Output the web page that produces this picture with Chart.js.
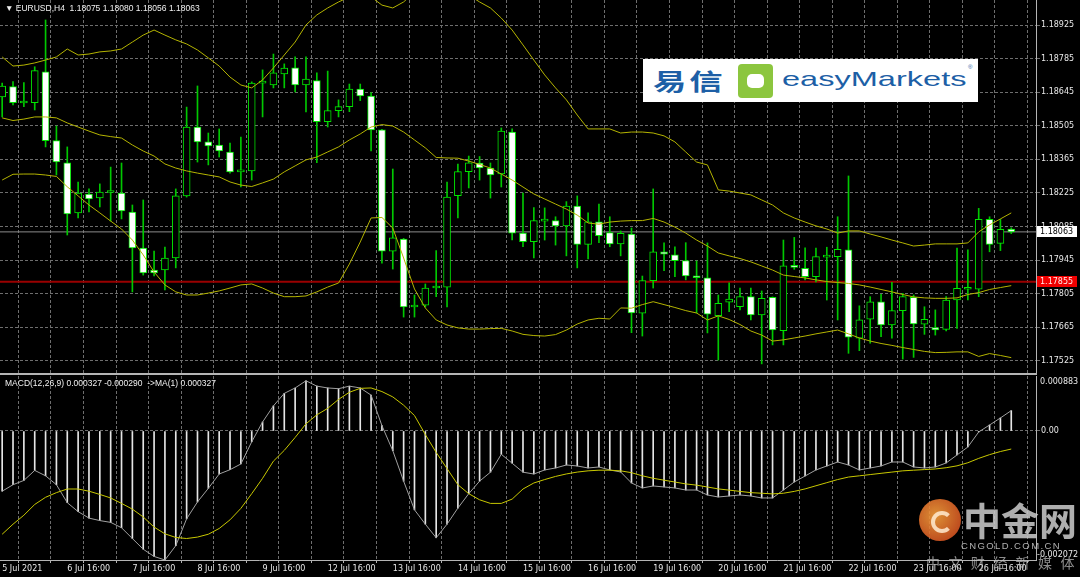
<!DOCTYPE html>
<html>
<head>
<meta charset="utf-8">
<script src="https://cdn.jsdelivr.net/npm/chart.js@4.4.0/dist/chart.umd.min.js"></script>
<style>
  html, body { margin: 0; padding: 0; background: #000; }
  #wrap { position: relative; width: 1080px; height: 577px; overflow: hidden; background: #000; font-family: "DejaVu Sans", sans-serif; }
  canvas { position: absolute; left: 0; }
  #mainChart { top: 0; }
  #macdChart { top: 376px; }
  .txt { position: absolute; color: #f0f0f0; font: 400 8.5px/10px "Liberation Sans", sans-serif; white-space: pre; }
  .ax { position: absolute; color: #e8e8e8; font: 400 8px/10px "DejaVu Sans", sans-serif; white-space: pre; }
  #logo { position: absolute; left: 643px; top: 59px; width: 335px; height: 43px; background: #fff; }
  #logo .cn { position: absolute; left: 10px; top: 10px; font: 700 23px/23px "Noto Sans CJK SC", sans-serif; color: #1d5fa6; letter-spacing: 2px; transform: scaleX(1.45); transform-origin: left top; }
  #logo .icon { position: absolute; left: 95px; top: 5px; width: 35px; height: 34px; background: #8cc63f; border-radius: 4px; }
  #logo .icon span { position: absolute; left: 9px; top: 10px; width: 17px; height: 14px; background: #fff; border-radius: 5px; }
  #logo .en { position: absolute; left: 139px; top: 9px; font: 400 21px/21px "Liberation Sans", sans-serif; color: #1d5fa6; transform: scaleX(1.55); transform-origin: left top; }
  #logo .reg { position: absolute; left: 325px; top: 5px; font: 400 6px/6px "Liberation Sans", sans-serif; color: #1d5fa6; }
  .wm { position: absolute; color: rgba(205,205,205,0.85); white-space: pre; }
</style>
</head>
<body>
<div id="wrap">
  <canvas id="mainChart" width="1080" height="376"></canvas>
  <canvas id="macdChart" width="1080" height="201"></canvas>
  <div class="txt" id="head" style="left:5px;top:3px;"></div>
  <div class="txt" id="macdHead" style="left:5px;top:378px;"></div>
  <div class="ax" id="macdMax" style="left:1040px;top:377px;"></div>
  <div class="ax" id="macdMin" style="left:1037px;top:550px;"></div>
  <div id="logo">
    <span class="cn">易信</span>
    <span class="icon"><span></span></span>
    <span class="en">easyMarkets</span>
    <span class="reg">®</span>
  </div>
  <div style="position:absolute;left:919px;top:499px;width:42px;height:42px;border-radius:50%;background:radial-gradient(circle at 40% 40%, rgba(245,160,60,0.9), rgba(210,60,25,0.85));"></div>
  <div style="position:absolute;left:931px;top:511px;width:14px;height:14px;border-radius:50%;border:4px solid rgba(255,235,210,0.85);border-right-color:transparent;"></div>
  <div class="wm" style="left:963px;top:496px;font:700 38px/46px 'Noto Sans CJK SC',sans-serif;">中金网</div>
  <div class="wm" style="left:961px;top:540px;font:400 9.5px/11px 'Liberation Sans',sans-serif;letter-spacing:1.4px;">CNGOLD.COM.CN</div>
  <div class="wm" style="left:926px;top:553px;font:400 14px/18px 'Noto Sans CJK SC',sans-serif;letter-spacing:8.4px;color:rgba(200,200,200,0.7);">中文财经新媒体</div>
</div>
<script>
// EURUSD H4, 94 bars from 5 Jul 2021 16:00 to 27 Jul 04:00
const symbol = 'EURUSD,H4';
const axisLabels = ['5 Jul 2021', '6 Jul 16:00', '7 Jul 16:00', '8 Jul 16:00', '9 Jul 16:00', '12 Jul 16:00',
  '13 Jul 16:00', '14 Jul 16:00', '15 Jul 16:00', '16 Jul 16:00', '19 Jul 16:00', '20 Jul 16:00',
  '21 Jul 16:00', '22 Jul 16:00', '23 Jul 16:00', '26 Jul 16:00'];
const priceTicks = [1.17525, 1.17665, 1.17805, 1.17945, 1.18085, 1.18225, 1.18365, 1.18505, 1.18645, 1.18785, 1.18925];
const macdScale = [-0.002072, 0.000883];

const open = [1.18625, 1.18668, 1.18600, 1.18601, 1.18730, 1.18443, 1.18351, 1.18142, 1.18221, 1.18204,
  1.18227, 1.18225, 1.18146, 1.17996, 1.17904, 1.17904, 1.17954, 1.18213, 1.18500, 1.18438,
  1.18425, 1.18396, 1.18313, 1.18317, 1.18683, 1.18675, 1.18721, 1.18747, 1.18675, 1.18693,
  1.18522, 1.18568, 1.18585, 1.18658, 1.18629, 1.18488, 1.17983, 1.18033, 1.17750, 1.17758,
  1.17829, 1.17833, 1.18214, 1.18314, 1.18350, 1.18329, 1.18304, 1.18479, 1.18058, 1.18022,
  1.18108, 1.18110, 1.18088, 1.18171, 1.18011, 1.18105, 1.18060, 1.18013, 1.18054, 1.17724,
  1.17860, 1.17980, 1.17967, 1.17943, 1.17879, 1.17872, 1.17714, 1.17770, 1.17751, 1.17793,
  1.17717, 1.17790, 1.17651, 1.17924, 1.17911, 1.17876, 1.17958, 1.17960, 1.17988, 1.17620,
  1.17699, 1.17772, 1.17675, 1.17735, 1.17790, 1.17678, 1.17664, 1.17657, 1.17779, 1.17824,
  1.17824, 1.18115, 1.18015, 1.18075];
const high = [1.18683, 1.18689, 1.18685, 1.18751, 1.18946, 1.18504, 1.18417, 1.18271, 1.18242, 1.18263,
  1.18333, 1.18350, 1.18175, 1.18196, 1.17983, 1.18000, 1.18242, 1.18583, 1.18671, 1.18475,
  1.18492, 1.18433, 1.18458, 1.18688, 1.18738, 1.18804, 1.18763, 1.18792, 1.18792, 1.18726,
  1.18733, 1.18613, 1.18679, 1.18679, 1.18643, 1.18490, 1.18325, 1.18036, 1.17800, 1.17846,
  1.17985, 1.18271, 1.18346, 1.18379, 1.18377, 1.18350, 1.18496, 1.18492, 1.18225, 1.18164,
  1.18163, 1.18126, 1.18189, 1.18213, 1.18142, 1.18179, 1.18126, 1.18067, 1.18079, 1.17879,
  1.18242, 1.18017, 1.18001, 1.18018, 1.17942, 1.18017, 1.17800, 1.17851, 1.17829, 1.17829,
  1.17817, 1.17792, 1.18029, 1.18040, 1.17997, 1.17995, 1.17999, 1.18126, 1.18296, 1.17755,
  1.17793, 1.17803, 1.17853, 1.17807, 1.17800, 1.17751, 1.17738, 1.17793, 1.17995, 1.17988,
  1.18161, 1.18126, 1.18115, 1.18080];
const low = [1.18542, 1.18592, 1.18585, 1.18571, 1.18417, 1.18300, 1.18050, 1.18121, 1.18146, 1.18167,
  1.18108, 1.18117, 1.17813, 1.17883, 1.17879, 1.17821, 1.17913, 1.18208, 1.18354, 1.18342,
  1.18375, 1.18308, 1.18250, 1.18279, 1.18542, 1.18663, 1.18663, 1.18646, 1.18563, 1.18351,
  1.18500, 1.18542, 1.18564, 1.18610, 1.18400, 1.17933, 1.17908, 1.17708, 1.17708, 1.17750,
  1.17793, 1.17750, 1.18121, 1.18246, 1.18279, 1.18204, 1.18250, 1.18029, 1.18001, 1.17954,
  1.18029, 1.18008, 1.17963, 1.17913, 1.17950, 1.18018, 1.18001, 1.17963, 1.17643, 1.17629,
  1.17829, 1.17901, 1.17876, 1.17863, 1.17725, 1.17642, 1.17529, 1.17730, 1.17738, 1.17696,
  1.17513, 1.17592, 1.17592, 1.17907, 1.17863, 1.17855, 1.17779, 1.17696, 1.17557, 1.17568,
  1.17599, 1.17626, 1.17620, 1.17533, 1.17540, 1.17636, 1.17633, 1.17650, 1.17661, 1.17779,
  1.17793, 1.17980, 1.17985, 1.18056];
const close = [1.18671, 1.18601, 1.18603, 1.18735, 1.18443, 1.18354, 1.18138, 1.18225, 1.18200, 1.18229,
  1.18230, 1.18150, 1.17996, 1.17892, 1.17892, 1.17954, 1.18213, 1.18500, 1.18438, 1.18421,
  1.18400, 1.18313, 1.18317, 1.18683, 1.18685, 1.18726, 1.18746, 1.18675, 1.18700, 1.18522,
  1.18568, 1.18585, 1.18658, 1.18630, 1.18488, 1.17983, 1.18038, 1.17750, 1.17758, 1.17829,
  1.17831, 1.18208, 1.18314, 1.18351, 1.18329, 1.18300, 1.18483, 1.18058, 1.18022, 1.18110,
  1.18110, 1.18088, 1.18171, 1.18011, 1.18105, 1.18047, 1.18013, 1.18057, 1.17725, 1.17860,
  1.17980, 1.17970, 1.17943, 1.17880, 1.17872, 1.17720, 1.17765, 1.17783, 1.17793, 1.17717,
  1.17786, 1.17654, 1.17922, 1.17915, 1.17876, 1.17960, 1.17960, 1.17990, 1.17624, 1.17696,
  1.17772, 1.17675, 1.17735, 1.17793, 1.17679, 1.17699, 1.17654, 1.17779, 1.17828, 1.17830,
  1.18115, 1.18011, 1.18074, 1.18063];

// Bollinger bands (20)
const bbUpper = [1.18792, 1.18754, 1.18758, 1.18767, 1.18779, 1.18792, 1.18825, 1.18800, 1.18804, 1.18813,
  1.18817, 1.18825, 1.18854, 1.18883, 1.18904, 1.18883, 1.18863, 1.18846, 1.18821, 1.18788,
  1.18754, 1.18708, 1.18675, 1.18663, 1.18696, 1.18746, 1.18800, 1.18854, 1.18925, 1.18967,
  1.18996, 1.19021, 1.19042, 1.19050, 1.19042, 1.19008, 1.18996, 1.19021, 1.19063, 1.19092,
  1.19104, 1.19092, 1.19071, 1.19050, 1.19021, 1.18996, 1.18954, 1.18904, 1.18842, 1.18779,
  1.18717, 1.18663, 1.18613, 1.18550, 1.18492, 1.18492, 1.18492, 1.18475, 1.18479, 1.18479,
  1.18475, 1.18463, 1.18438, 1.18396, 1.18354, 1.18342, 1.18238, 1.18233, 1.18225, 1.18217,
  1.18196, 1.18175, 1.18142, 1.18121, 1.18104, 1.18088, 1.18075, 1.18058, 1.18067, 1.18067,
  1.18054, 1.18042, 1.18029, 1.18017, 1.18004, 1.18008, 1.18013, 1.18013, 1.18013, 1.18017,
  1.18063, 1.18092, 1.18117, 1.18142];
const bbMiddle = [1.18538, 1.18527, 1.18533, 1.18542, 1.18542, 1.18538, 1.18517, 1.18500, 1.18483, 1.18467,
  1.18460, 1.18454, 1.18425, 1.18400, 1.18379, 1.18346, 1.18329, 1.18317, 1.18308, 1.18300,
  1.18292, 1.18271, 1.18258, 1.18252, 1.18267, 1.18283, 1.18313, 1.18338, 1.18363, 1.18375,
  1.18396, 1.18417, 1.18446, 1.18471, 1.18500, 1.18510, 1.18504, 1.18479, 1.18446, 1.18413,
  1.18373, 1.18371, 1.18370, 1.18358, 1.18344, 1.18329, 1.18304, 1.18279, 1.18250, 1.18221,
  1.18200, 1.18179, 1.18158, 1.18133, 1.18100, 1.18095, 1.18104, 1.18108, 1.18110, 1.18110,
  1.18119, 1.18104, 1.18083, 1.18058, 1.18029, 1.18004, 1.17975, 1.17963, 1.17952, 1.17938,
  1.17921, 1.17904, 1.17883, 1.17877, 1.17871, 1.17863, 1.17856, 1.17852, 1.17848, 1.17842,
  1.17833, 1.17823, 1.17813, 1.17802, 1.17792, 1.17788, 1.17786, 1.17786, 1.17788, 1.17802,
  1.17810, 1.17823, 1.17831, 1.17839];
const bbLower = [1.18279, 1.18303, 1.18304, 1.18304, 1.18300, 1.18294, 1.18251, 1.18213, 1.18175, 1.18142,
  1.18108, 1.18075, 1.18029, 1.17967, 1.17896, 1.17842, 1.17813, 1.17800, 1.17800, 1.17808,
  1.17817, 1.17829, 1.17842, 1.17846, 1.17829, 1.17808, 1.17793, 1.17793, 1.17796, 1.17813,
  1.17833, 1.17850, 1.17929, 1.18021, 1.18121, 1.18123, 1.18079, 1.17954, 1.17825, 1.17746,
  1.17696, 1.17675, 1.17663, 1.17658, 1.17658, 1.17660, 1.17661, 1.17650, 1.17636, 1.17631,
  1.17629, 1.17635, 1.17654, 1.17679, 1.17696, 1.17703, 1.17700, 1.17746, 1.17745, 1.17760,
  1.17772, 1.17760, 1.17748, 1.17735, 1.17725, 1.17696, 1.17713, 1.17698, 1.17677, 1.17650,
  1.17633, 1.17608, 1.17613, 1.17621, 1.17629, 1.17638, 1.17646, 1.17654, 1.17638, 1.17621,
  1.17608, 1.17598, 1.17590, 1.17581, 1.17573, 1.17565, 1.17560, 1.17561, 1.17563, 1.17563,
  1.17544, 1.17556, 1.17548, 1.17539];

const bidPrice = 1.18063;
const alertLevel = 1.17855;

// MACD(12,26,9)
const macdMain = [-0.000967, -0.000863, -0.000794, -0.000633, -0.000720, -0.000863, -0.001151, -0.001295, -0.001399, -0.001439,
  -0.001468, -0.001554, -0.001727, -0.001899, -0.002015, -0.002072, -0.001842, -0.001410, -0.001140, -0.000921,
  -0.000691, -0.000622, -0.000530, -0.000173, 0.000144, 0.000403, 0.000604, 0.000691, 0.000806, 0.000720,
  0.000691, 0.000679, 0.000720, 0.000691, 0.000576, 0.000086, -0.000317, -0.000806, -0.001266, -0.001497,
  -0.001715, -0.001497, -0.001238, -0.001007, -0.000806, -0.000662, -0.000374, -0.000518, -0.000662, -0.000691,
  -0.000626, -0.000594, -0.000546, -0.000562, -0.000594, -0.000578, -0.000626, -0.000658, -0.000835, -0.000915,
  -0.000883, -0.000899, -0.000915, -0.000948, -0.000948, -0.001028, -0.001060, -0.001044, -0.001028, -0.001044,
  -0.001076, -0.001076, -0.000948, -0.000819, -0.000723, -0.000626, -0.000562, -0.000498, -0.000546, -0.000626,
  -0.000594, -0.000562, -0.000498, -0.000498, -0.000578, -0.000594, -0.000578, -0.000514, -0.000385, -0.000257,
  -0.000016, 0.000096, 0.000209, 0.000327];
const macdSignal = [-0.001658, -0.001497, -0.001353, -0.001180, -0.001065, -0.000990, -0.000932, -0.000932, -0.000967, -0.001019,
  -0.001076, -0.001163, -0.001255, -0.001381, -0.001543, -0.001652, -0.001710, -0.001727, -0.001704, -0.001658,
  -0.001566, -0.001427, -0.001243, -0.001007, -0.000760, -0.000484, -0.000311, -0.000104, 0.000115, 0.000259,
  0.000363, 0.000507, 0.000622, 0.000685, 0.000691, 0.000633, 0.000547, 0.000414, 0.000248, -0.000058,
  -0.000345, -0.000604, -0.000863, -0.001007, -0.001105, -0.001163, -0.001163, -0.001094, -0.000932, -0.000835,
  -0.000780, -0.000730, -0.000690, -0.000660, -0.000640, -0.000630, -0.000630, -0.000640, -0.000670, -0.000720,
  -0.000760, -0.000790, -0.000820, -0.000850, -0.000870, -0.000900, -0.000930, -0.000950, -0.000970, -0.000990,
  -0.001000, -0.001010, -0.001000, -0.000970, -0.000930, -0.000880, -0.000830, -0.000780, -0.000740, -0.000720,
  -0.000700, -0.000680, -0.000660, -0.000640, -0.000630, -0.000620, -0.000610, -0.000590, -0.000560, -0.000510,
  -0.000440, -0.000380, -0.000330, -0.000290];

// colours
const GRID = '#6e6e6e';
const FRAME = '#b4b4b4';
const AXIS_TXT = '#e8e8e8';
const CANDLE_LINE = '#00e600';
const WICK = '#00c800';
const BAND = '#b4b400';
const FONT = { family: 'DejaVu Sans', size: 8 };

const n = open.length;
const X_MIN = -0.2, X_MAX = 95.28;
const Y_MIN = 1.174708, Y_MAX = 1.190292;
const gridBars = [];
for (let i = 0; i < n; i += 3) gridBars.push(i);

const pts = arr => arr.map((v, i) => ({ x: i, y: v }));
const bodies = open.map((o, i) => ({ x: i, y: [o, close[i]] }));
const wicks = low.map((l, i) => ({ x: i, y: [l, high[i]] }));

document.getElementById('head').textContent = '\u25BC ' + symbol + '  ' +
  [open[n - 1], high[n - 1], low[n - 1], close[n - 1]].map(v => v.toFixed(5)).join(' ');
document.getElementById('macdHead').textContent = 'MACD(12,26,9) ' + macdMain[n - 1].toFixed(6) + ' ' +
  macdSignal[n - 1].toFixed(6) + '  ->MA(1) ' + macdMain[n - 1].toFixed(6);
document.getElementById('macdMax').textContent = macdScale[1].toFixed(6);
document.getElementById('macdMin').textContent = macdScale[0].toFixed(6);

function noPad(s) {
  s.paddingTop = 0; s.paddingBottom = 0; s.paddingLeft = 0; s.paddingRight = 0;
}

function xScale(withLabels) {
  return {
    type: 'linear', min: X_MIN, max: X_MAX, offset: false,
    afterBuildTicks: s => { s.ticks = gridBars.map(v => ({ value: v })); },
    ticks: {
      display: withLabels, autoSkip: false, maxRotation: 0, align: 'start', padding: 1,
      color: AXIS_TXT, font: FONT,
      callback: v => (v % 6 === 0 && axisLabels[v / 6]) ? axisLabels[v / 6] : ''
    },
    grid: { color: GRID, lineWidth: 1, drawTicks: withLabels, tickLength: 3, tickColor: FRAME, tickBorderDash: [] },
    border: { display: true, color: FRAME, width: withLabels ? 1 : 2, dash: [3, 2] },
    afterFit: s => { s.height = withLabels ? 17 : 2; noPad(s); }
  };
}

function yScale(extra) {
  return Object.assign({
    position: 'right',
    grid: { color: GRID, tickLength: 4, tickColor: GRID },
    border: { color: FRAME, dash: [3, 2] },
    afterFit: s => { s.width = 44; noPad(s); }
  }, extra);
}

// price tags on the right axis
const priceTags = {
  id: 'priceTags',
  afterDraw(chart) {
    const { ctx, chartArea } = chart;
    const y = chart.scales.y;
    [{ v: alertLevel, bg: '#f00000', fg: '#ffe8e8' }, { v: bidPrice, bg: '#ffffff', fg: '#000000' }].forEach(t => {
      const py = Math.round(y.getPixelForValue(t.v));
      ctx.save();
      ctx.fillStyle = t.bg;
      ctx.fillRect(chartArea.right + 1, py - 6, 40, 11);
      ctx.fillStyle = t.fg;
      ctx.font = '8px "DejaVu Sans"';
      ctx.textBaseline = 'middle';
      ctx.fillText(t.v.toFixed(5), chartArea.right + 4, py);
      ctx.restore();
    });
  }
};

const common = {
  responsive: false, animation: false, devicePixelRatio: 1,
  layout: { padding: 0 },
  plugins: { legend: { display: false }, tooltip: { enabled: false } }
};

new Chart(document.getElementById('mainChart'), {
  type: 'bar',
  data: {
    datasets: [
      { type: 'line', label: 'BB upper', data: pts(bbUpper), borderColor: BAND, borderWidth: 1, pointRadius: 0, tension: 0, order: 0 },
      { type: 'line', label: 'BB middle', data: pts(bbMiddle), borderColor: BAND, borderWidth: 1, pointRadius: 0, tension: 0, order: 0 },
      { type: 'line', label: 'BB lower', data: pts(bbLower), borderColor: BAND, borderWidth: 1, pointRadius: 0, tension: 0, order: 0 },
      {
        label: 'body', data: bodies, grouped: false, barThickness: 7, minBarLength: 2,
        borderColor: CANDLE_LINE, borderWidth: 1, borderSkipped: false,
        backgroundColor: c => (c.raw && c.raw.y[1] < c.raw.y[0]) ? '#ffffff' : '#000000',
        order: 1
      },
      { label: 'wick', data: wicks, grouped: false, barThickness: 1, backgroundColor: WICK, borderWidth: 0, order: 2 },
      { type: 'line', label: 'bid', data: [{ x: X_MIN, y: bidPrice }, { x: X_MAX, y: bidPrice }], borderColor: '#8a8a8a', borderWidth: 1, pointRadius: 0, order: 3 },
      { type: 'line', label: 'alert', data: [{ x: X_MIN, y: alertLevel }, { x: X_MAX, y: alertLevel }], borderColor: '#9a0000', borderWidth: 2, pointRadius: 0, order: 3 }
    ]
  },
  options: Object.assign({}, common, {
    scales: {
      x: xScale(false),
      y: yScale({
        min: Y_MIN, max: Y_MAX,
        afterBuildTicks: s => { s.ticks = priceTicks.map(v => ({ value: v })); },
        ticks: { color: AXIS_TXT, font: FONT, padding: 1, callback: v => Number(v).toFixed(5) }
      })
    }
  }),
  plugins: [priceTags]
});

new Chart(document.getElementById('macdChart'), {
  type: 'bar',
  data: {
    datasets: [
      { type: 'line', label: 'Signal', data: pts(macdSignal), borderColor: '#c8c800', borderWidth: 1, pointRadius: 0, tension: 0, order: 0 },
      { type: 'line', label: 'MA(1)', data: pts(macdMain), borderColor: '#a0a0a0', borderWidth: 1, pointRadius: 0, tension: 0, order: 1 },
      { label: 'MACD', data: pts(macdMain), grouped: false, barThickness: 1, backgroundColor: '#e6e6e6', borderWidth: 0, order: 2 }
    ]
  },
  options: Object.assign({}, common, {
    scales: {
      x: xScale(true),
      y: yScale({
        min: macdScale[0], max: macdScale[1],
        afterBuildTicks: s => { s.ticks = [{ value: 0 }]; },
        ticks: { color: AXIS_TXT, font: FONT, padding: 1, callback: () => '0.00' }
      })
    }
  })
});
</script>
</body>
</html>
